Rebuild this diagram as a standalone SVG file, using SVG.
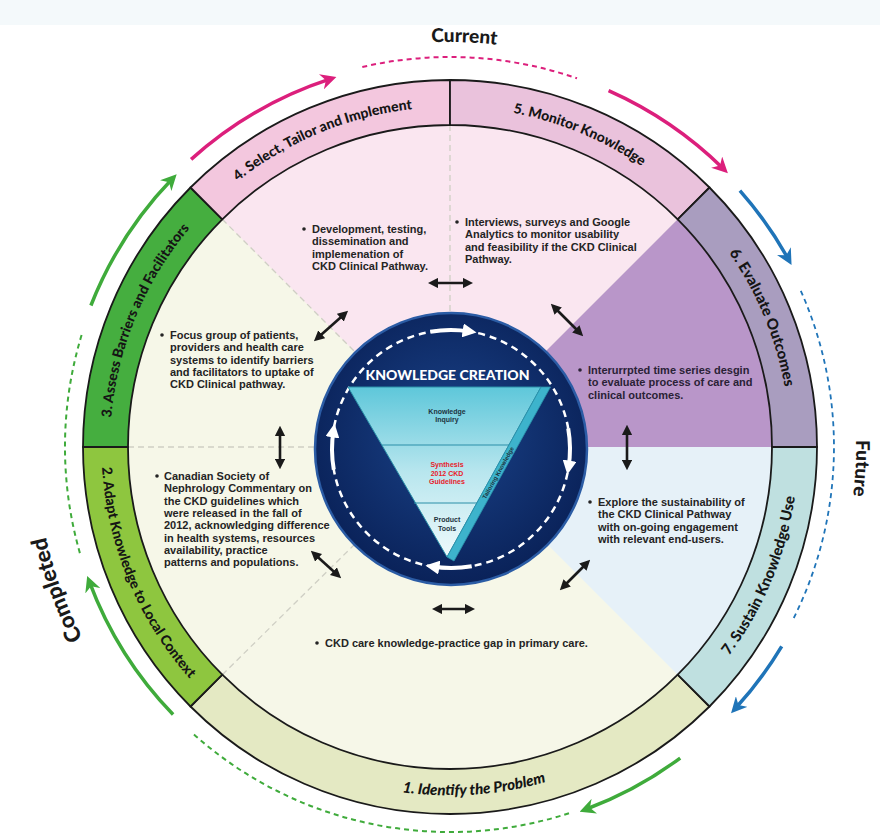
<svg xmlns="http://www.w3.org/2000/svg" width="880" height="834" viewBox="0 0 880 834">
<defs>
<style>
.t{font-family:"Liberation Sans",Arial,sans-serif;font-weight:700;fill:#242424;font-size:11px}
.bu{fill:#242424}
.lbl{font-family:Lato,"Liberation Sans",sans-serif;font-weight:900;fill:#151515;font-size:14px}
.ph{font-family:Lato,"Liberation Sans",sans-serif;font-weight:900;fill:#1a1a1a;font-size:20px}
.seg{stroke:#1a1a1a;stroke-width:1.8;stroke-linejoin:round}
.guide{stroke:#cfcfc4;stroke-width:1.3;stroke-dasharray:6 4;fill:none}
.dbl{stroke:#1a1a1a;stroke-width:2.6;fill:none;marker-start:url(#ah);marker-end:url(#ah)}
.tri{font-family:"Liberation Sans",Arial,sans-serif;font-weight:700;font-size:7px;text-anchor:middle}
.pk{stroke:#dc1f7c;stroke-width:3.5;fill:none}
.bl{stroke:#1f74b8;stroke-width:3.5;fill:none}
.gr{stroke:#3fab3b;stroke-width:3.5;fill:none}
.wa{stroke:#ffffff;stroke-width:4;fill:none;marker-end:url(#wh)}
</style>
<marker id="ah" viewBox="0 0 10 10" refX="5" refY="5" markerWidth="4" markerHeight="4" orient="auto-start-reverse"><path d="M0,0L10,5L0,10z" fill="#1a1a1a"/></marker>
<marker id="mpk" viewBox="0 0 10 10" refX="6" refY="5" markerWidth="4.5" markerHeight="4.5" orient="auto"><path d="M0,0L10,5L0,10L3,5z" fill="#dc1f7c"/></marker>
<marker id="mbl" viewBox="0 0 10 10" refX="6" refY="5" markerWidth="4.5" markerHeight="4.5" orient="auto"><path d="M0,0L10,5L0,10L3,5z" fill="#1f74b8"/></marker>
<marker id="mgr" viewBox="0 0 10 10" refX="6" refY="5" markerWidth="4.5" markerHeight="4.5" orient="auto"><path d="M0,0L10,5L0,10L3,5z" fill="#3fab3b"/></marker>
<marker id="wh" viewBox="0 0 10 10" refX="5" refY="5" markerWidth="3.5" markerHeight="3.5" orient="auto"><path d="M0,0L10,5L0,10z" fill="#ffffff"/></marker>
<radialGradient id="navy" cx="50%" cy="45%" r="55%"><stop offset="0" stop-color="#1a438a"/><stop offset="1" stop-color="#0a2259"/></radialGradient>
<linearGradient id="cyan" x1="0" y1="0" x2="0" y2="1"><stop offset="0" stop-color="#5ec7da"/><stop offset="0.5" stop-color="#b8e6ee"/><stop offset="1" stop-color="#eef9fb"/></linearGradient>
<path id="p4" d="M209.6,206.6 A340,340 0 0 1 450,107"/>
<path id="p5" d="M450,107 A340,340 0 0 1 690.4,206.6"/>
<path id="p6" d="M690.4,206.6 A340,340 0 0 1 790,447"/>
<path id="p3" d="M110,447 A340,340 0 0 1 209.6,206.6"/>
<path id="p7" d="M696.4,693.4 A348.5,348.5 0 0 0 798.5,447"/>
<path id="p2" d="M101.5,447 A348.5,348.5 0 0 0 203.6,693.4"/>
<path id="p1" d="M203.6,693.4 A348.5,348.5 0 0 0 696.4,693.4"/>
<path id="pcur" d="M311.5,66.4 A405,405 0 0 1 614.7,77"/>
<path id="pfut" d="M831.5,307.6 A406,406 0 0 1 814.9,625"/>
<path id="pcomp" d="M132.9,713.1 A414,414 0 0 1 36,447"/>
</defs>

<rect width="880" height="834" fill="#ffffff"/>
<rect width="880" height="25" fill="#f4f9fb"/>

<g id="inner-sectors">
<circle cx="450" cy="447" r="322" fill="#f6f7e8"/>
<path d="M450,447 L222.3,219.3 A322,322 0 0 1 677.7,219.3 Z" fill="#fae6f0"/>
<path d="M450,447 L677.7,219.3 A322,322 0 0 1 772,447 Z" fill="#b996c9"/>
<path d="M450,447 L772,447 A322,322 0 0 1 677.7,674.7 Z" fill="#e6f1f8"/>
</g>

<g id="guides">
<line class="guide" x1="450" y1="125" x2="450" y2="313"/>
<line class="guide" x1="222.3" y1="219.3" x2="355.5" y2="352.5"/>
<line class="guide" x1="128" y1="447" x2="315" y2="447"/>
<line class="guide" x1="222.3" y1="674.7" x2="355.5" y2="543.5"/>
</g>

<g id="stage-1">
<path class="seg" d="M709.5,706.5 A367,367 0 0 1 190.5,706.5 L222.3,674.7 A322,322 0 0 0 677.7,674.7 Z" fill="#e4e9c3"/>
<text class="lbl" style="font-size:15px;font-style:italic"><textPath href="#p1" startOffset="54.5%" text-anchor="middle">1. Identify the Problem</textPath></text>
<circle class="bu" cx="317" cy="643" r="1.8"/>
<text class="t" x="325" y="647">CKD care knowledge-practice gap in primary care.</text>
</g>

<g id="stage-2">
<path class="seg" d="M190.5,706.5 A367,367 0 0 1 83,447 L128,447 A322,322 0 0 0 222.3,674.7 Z" fill="#8ec63f"/>
<text class="lbl"><textPath href="#p2" startOffset="50%" text-anchor="middle">2. Adapt Knowledge to Local Context</textPath></text>
<circle class="bu" cx="157" cy="476" r="1.8"/>
<text class="t"><tspan x="164" y="480">Canadian Society of</tspan><tspan x="164" y="492.3">Nephrology Commentary on</tspan><tspan x="164" y="504.6">the CKD guidelines which</tspan><tspan x="164" y="516.9">were released in the fall of</tspan><tspan x="164" y="529.2">2012, acknowledging difference</tspan><tspan x="164" y="541.5">in health systems, resources</tspan><tspan x="164" y="553.8">availability, practice</tspan><tspan x="164" y="566.1">patterns and populations.</tspan></text>
</g>

<g id="stage-3">
<path class="seg" d="M83,447 A367,367 0 0 1 190.5,187.5 L222.3,219.3 A322,322 0 0 0 128,447 Z" fill="#45ae3f"/>
<text class="lbl"><textPath href="#p3" startOffset="50%" text-anchor="middle">3. Assess Barriers  and Facilitators</textPath></text>
<circle class="bu" cx="162" cy="335" r="1.8"/>
<text class="t"><tspan x="170" y="339">Focus group of patients,</tspan><tspan x="170" y="351.3">providers and health care</tspan><tspan x="170" y="363.6">systems to identify barriers</tspan><tspan x="170" y="375.9">and facilitators to uptake of</tspan><tspan x="170" y="388.2">CKD Clinical pathway.</tspan></text>
</g>

<g id="stage-4">
<path class="seg" d="M190.5,187.5 A367,367 0 0 1 450,80 L450,125 A322,322 0 0 0 222.3,219.3 Z" fill="#f3c7de"/>
<text class="lbl"><textPath href="#p4" startOffset="50%" text-anchor="middle">4. Select, Tailor and Implement</textPath></text>
<circle class="bu" cx="304" cy="229" r="1.8"/>
<text class="t"><tspan x="312" y="233">Development, testing,</tspan><tspan x="312" y="245.3">dissemination and</tspan><tspan x="312" y="257.6">implemenation of</tspan><tspan x="312" y="269.9">CKD Clinical Pathway.</tspan></text>
</g>

<g id="stage-5">
<path class="seg" d="M450,80 A367,367 0 0 1 709.5,187.5 L677.7,219.3 A322,322 0 0 0 450,125 Z" fill="#eac2dc"/>
<text class="lbl"><textPath href="#p5" startOffset="50%" text-anchor="middle">5. Monitor Knowledge</textPath></text>
<circle class="bu" cx="457" cy="222" r="1.8"/>
<text class="t"><tspan x="465" y="226">Interviews, surveys and Google</tspan><tspan x="465" y="238.3">Analytics to monitor usability</tspan><tspan x="465" y="250.6">and feasibility if the CKD Clinical</tspan><tspan x="465" y="262.9">Pathway.</tspan></text>
</g>

<g id="stage-6">
<path class="seg" d="M709.5,187.5 A367,367 0 0 1 817,447 L772,447 A322,322 0 0 0 677.7,219.3 Z" fill="#a99dbf"/>
<text class="lbl" style="font-size:15px"><textPath href="#p6" startOffset="50%" text-anchor="middle">6. Evaluate Outcomes</textPath></text>
<circle class="bu" cx="580" cy="370" r="1.8" style="fill:#2a2236"/>
<text class="t" style="fill:#2a2236"><tspan x="588" y="374">Interurrpted time series desgin</tspan><tspan x="588" y="386.3">to evaluate process of care and</tspan><tspan x="588" y="398.6">clinical outcomes.</tspan></text>
</g>

<g id="stage-7">
<path class="seg" d="M817,447 A367,367 0 0 1 709.5,706.5 L677.7,674.7 A322,322 0 0 0 772,447 Z" fill="#bfe0e0"/>
<text class="lbl" style="font-size:15px"><textPath href="#p7" startOffset="50%" text-anchor="middle">7. Sustain Knowledge Use</textPath></text>
<circle class="bu" cx="590" cy="502" r="1.8"/>
<text class="t"><tspan x="598" y="506">Explore the sustainability of</tspan><tspan x="598" y="518.3">the CKD Clinical Pathway</tspan><tspan x="598" y="530.6">with on-going engagement</tspan><tspan x="598" y="542.9">with relevant end-users.</tspan></text>
</g>

<g id="knowledge-creation">
<circle cx="451" cy="449" r="136" fill="url(#navy)" stroke="#2b5ca5" stroke-width="2.5"/>
<circle cx="451" cy="449" r="119" fill="none" stroke="#ffffff" stroke-width="2.5" stroke-dasharray="7 5"/>
<path class="wa" d="M430.3,331.8 A119,119 0 0 1 469.6,331.5"/>
<path class="wa" d="M568.2,428.3 A119,119 0 0 1 568.5,467.6"/>
<path class="wa" d="M471.7,566.2 A119,119 0 0 1 432.4,566.5"/>
<path class="wa" d="M333.8,469.7 A119,119 0 0 1 333.5,430.4"/>
<text x="447.5" y="380" text-anchor="middle" style="font-family:Lato,'Liberation Sans',sans-serif;font-weight:900;font-size:14px;fill:#ffffff">KNOWLEDGE CREATION</text>
<polygon points="348,387 541,387 447,557" fill="url(#cyan)" stroke="#2a8fa8" stroke-width="1"/>
<polygon points="541,387 550.5,387 454,561 447,557" fill="#3db3cc" stroke="#2a8fa8" stroke-width="0.8"/>
<line x1="382" y1="445" x2="509" y2="445" stroke="#2a8fa8" stroke-width="1"/>
<line x1="414" y1="503" x2="477" y2="503" stroke="#2a8fa8" stroke-width="1"/>
<text class="tri" fill="#1d3340"><tspan x="447" y="413.5">Knowledge</tspan><tspan x="447" y="422">Inquiry</tspan></text>
<text class="tri" fill="#e8202a"><tspan x="447" y="467">Synthesis</tspan><tspan x="447" y="475.5">2012 CKD</tspan><tspan x="447" y="484">Guidelines</tspan></text>
<text class="tri" fill="#1d3340"><tspan x="447" y="522">Product</tspan><tspan x="447" y="530.5">Tools</tspan></text>
<text class="tri" fill="#1d3340" style="font-size:6px" transform="translate(500,474) rotate(-61)">Tailoring Knowledge</text>
</g>

<g id="connectors">
<line class="dbl" x1="433" y1="283" x2="468" y2="283"/>
<line class="dbl" x1="317.8" y1="337.7" x2="344.2" y2="314.3"/>
<line class="dbl" x1="554.5" y1="307.5" x2="579.5" y2="332.5"/>
<line class="dbl" x1="280" y1="431" x2="280" y2="464"/>
<line class="dbl" x1="627" y1="430" x2="627" y2="465"/>
<line class="dbl" x1="314.7" y1="554.3" x2="337.3" y2="574.7"/>
<line class="dbl" x1="563.5" y1="586.5" x2="586.5" y2="563.5"/>
<line class="dbl" x1="437" y1="609" x2="470" y2="609"/>
<path class="pk" marker-end="url(#mpk)" d="M191.1,159.4 A387,387 0 0 1 330.4,78.9"/>
<path class="pk" style="stroke-width:2;stroke-dasharray:5 4" d="M362.3,67 A390,390 0 0 1 577,78.3"/>
<path class="pk" marker-end="url(#mpk)" d="M608.6,90.7 A390,390 0 0 1 723.4,168.8"/>
<path class="bl" marker-end="url(#mbl)" d="M739.9,190.6 A387,387 0 0 1 788.5,259.4"/>
<path class="bl" style="stroke-width:1.8;stroke-dasharray:5 4" d="M800.8,290.8 A384,384 0 0 1 792.1,621.3"/>
<path class="bl" marker-end="url(#mbl)" d="M781.7,646.3 A387,387 0 0 1 735.3,708.5"/>
<path class="gr" marker-end="url(#mgr)" d="M680.2,758.1 A387,387 0 0 1 585.5,809.5"/>
<path class="gr" style="stroke-width:2;stroke-dasharray:5 4" d="M569,813.2 A385,385 0 0 1 192.4,733.1"/>
<path class="gr" marker-end="url(#mgr)" d="M173.1,714.5 A385,385 0 0 1 89.4,581.8"/>
<path class="gr" style="stroke-width:2;stroke-dasharray:5 4" d="M79.9,553.1 A385,385 0 0 1 81.8,334.4"/>
<path class="gr" marker-end="url(#mgr)" d="M90.9,305.5 A386,386 0 0 1 172.3,178.8"/>
</g>

<g id="phase-labels">
<text class="ph" style="font-size:19px"><textPath href="#pcur" startOffset="50%" text-anchor="middle">Current</textPath></text>
<text class="ph" style="font-size:19px"><textPath href="#pfut" startOffset="50%" text-anchor="middle">Future</textPath></text>
<text class="ph" style="font-size:22px"><textPath href="#pcomp" startOffset="50%" text-anchor="middle">Completed</textPath></text>
</g>
</svg>
